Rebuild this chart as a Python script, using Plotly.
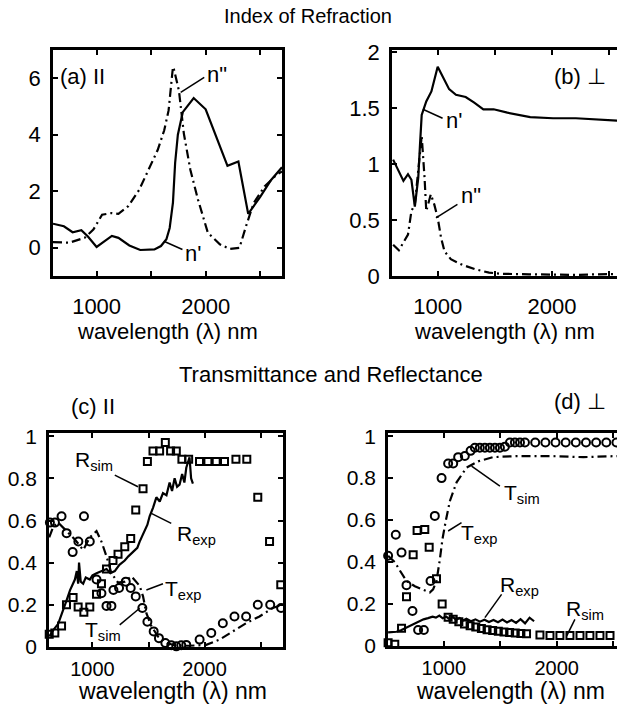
import plotly.graph_objects as go

W, H = 617, 706

# ---------------- (a) parallel : index of refraction ----------------
a_n1_x = [600, 700, 780, 860, 920, 1000, 1080, 1140, 1200, 1300, 1400, 1530, 1590, 1640,
          1670, 1700, 1720, 1745, 1790, 1890, 2000, 2200, 2300, 2390, 2500, 2600, 2700]
a_n1_y = [0.85, 0.76, 0.55, 0.62, 0.4, 0.03, 0.25, 0.42, 0.35, 0.08, -0.08, -0.06, 0.06, 0.3,
          0.7, 1.6, 3.0, 4.0, 4.8, 5.3, 4.9, 2.9, 3.05, 1.2, 1.8, 2.4, 2.85]
a_n2_x = [600, 750, 890, 970, 1050, 1140, 1200, 1290, 1390, 1460, 1560, 1620, 1660, 1700,
          1710, 1755, 1800, 1860, 1930, 2020, 2130, 2220, 2310, 2370, 2440, 2540, 2650, 2700]
a_n2_y = [0.2, 0.18, 0.35, 0.64, 1.17, 1.23, 1.2, 1.47, 2.05, 2.64, 3.46, 4.16, 4.86, 6.4,
          6.3, 5.56, 4.04, 2.75, 1.7, 0.53, 0.12, -0.04, 0.0, 0.76, 1.58, 2.17, 2.58, 2.7]

# ---------------- (b) perpendicular : index of refraction ----------------
b_n1_x = [610, 700, 740, 770, 800, 830, 845, 860, 900, 945, 1000, 1100, 1160, 1245, 1320,
          1400, 1490, 1610, 1810, 2010, 2210, 2360, 2550, 2700]
b_n1_y = [1.04, 0.85, 0.91, 0.86, 0.62, 0.88, 1.17, 1.44, 1.56, 1.65, 1.87, 1.67, 1.62, 1.6,
          1.55, 1.49, 1.49, 1.46, 1.42, 1.41, 1.41, 1.40, 1.39, 1.38]
b_n2_x = [610, 660, 740, 770, 800, 830, 860, 885, 900, 940, 970, 1000, 1030, 1060, 1115,
          1215, 1330, 1450, 1550, 1800, 2000, 2200, 2400, 2600, 2700]
b_n2_y = [0.28, 0.23, 0.37, 0.58, 0.64, 0.94, 1.25, 0.88, 0.58, 0.73, 0.64, 0.52, 0.34, 0.22,
          0.15, 0.1, 0.06, 0.03, 0.02, 0.015, 0.01, 0.01, 0.015, 0.02, 0.02]

# ---------------- (c) parallel : T and R ----------------
c_rsim_x = [614, 664, 724, 768, 827, 872, 923, 976, 1036, 1080, 1125, 1183, 1228, 1288, 1341,
            1386, 1451, 1490, 1540, 1599, 1650, 1697, 1748, 1798, 1858, 1955, 2030, 2104, 2178,
            2280, 2377, 2475, 2580, 2680]
c_rsim_y = [0.06, 0.066, 0.1, 0.2, 0.235, 0.19, 0.165, 0.19, 0.25, 0.3, 0.37, 0.41, 0.44, 0.475,
            0.515, 0.65, 0.75, 0.88, 0.93, 0.93, 0.97, 0.93, 0.93, 0.89, 0.89, 0.88, 0.88, 0.88,
            0.88, 0.89, 0.89, 0.71, 0.5, 0.295]
c_tsim_x = [620, 665, 724, 769, 823, 874, 924, 976, 1036, 1080, 1125, 1169, 1187, 1237, 1297,
            1341, 1386, 1445, 1490, 1546, 1593, 1650, 1703, 1748, 1792, 1837, 1956, 2060, 2163,
            2267, 2371, 2475, 2586, 2683]
c_tsim_y = [0.59, 0.59, 0.62, 0.54, 0.45, 0.5, 0.62, 0.5, 0.32, 0.255, 0.195, 0.195, 0.27, 0.28,
            0.31, 0.28, 0.24, 0.185, 0.12, 0.074, 0.042, 0.019, 0.008, 0.003, 0.008, 0.01, 0.035,
            0.066, 0.113, 0.145, 0.145, 0.2, 0.2, 0.185]
c_rexp_x = [614, 650, 694, 730, 768, 800, 843, 860, 872, 880, 895, 917, 940, 976, 1000, 1036,
            1080, 1125, 1160, 1199, 1240, 1288, 1320, 1362, 1400, 1421, 1466, 1490, 1510, 1540,
            1570, 1600, 1629, 1660, 1688, 1710, 1733, 1755, 1777, 1800, 1820, 1837, 1866, 1880,
            1896]
c_rexp_y = [0.05, 0.08, 0.11, 0.16, 0.22, 0.27, 0.32, 0.36, 0.3, 0.4, 0.31, 0.3, 0.33, 0.32,
            0.34, 0.35, 0.36, 0.37, 0.35, 0.36, 0.39, 0.41, 0.43, 0.45, 0.47, 0.5, 0.55, 0.58,
            0.62, 0.66, 0.71, 0.69, 0.73, 0.72, 0.78, 0.74, 0.8, 0.76, 0.77, 0.82, 0.78, 0.85,
            0.9, 0.8, 0.775]
c_texp_x = [614, 650, 694, 768, 843, 917, 976, 1036, 1080, 1125, 1169, 1228, 1288, 1347, 1421,
            1451, 1481, 1525, 1584, 1659, 1748, 1866, 2015, 2133, 2252, 2371, 2490, 2609, 2690]
c_texp_y = [0.52, 0.57, 0.59, 0.55, 0.51, 0.46, 0.52, 0.55, 0.5, 0.43, 0.35, 0.305, 0.31, 0.335,
            0.29, 0.24, 0.16, 0.1, 0.05, 0.02, 0.006, 0.006, 0.01, 0.035, 0.074, 0.113, 0.145,
            0.185, 0.2]

# ---------------- (d) perpendicular : T and R ----------------
d_tsim_x = [506, 574, 625, 669, 722, 772, 823, 882, 920, 980, 1038, 1083, 1127, 1186, 1237,
            1275, 1319, 1364, 1408, 1453, 1497, 1541, 1586, 1630, 1675, 1719, 1810, 1900, 1990,
            2080, 2170, 2260, 2350, 2440, 2530]
d_tsim_y = [0.43, 0.53, 0.445, 0.29, 0.167, 0.076, 0.076, 0.31, 0.62, 0.8, 0.87, 0.87, 0.9,
            0.905, 0.93, 0.945, 0.945, 0.945, 0.945, 0.945, 0.945, 0.95, 0.97, 0.97, 0.97, 0.97,
            0.97, 0.97, 0.97, 0.97, 0.97, 0.97, 0.97, 0.97, 0.97]
d_rsim_x = [506, 565, 625, 669, 728, 763, 831, 870, 935, 985, 1038, 1083, 1133, 1183, 1233,
            1283, 1333, 1383, 1433, 1483, 1533, 1583, 1633, 1683, 1733, 1852, 1941, 2029, 2118,
            2207, 2295, 2384, 2473]
d_rsim_y = [0.016, 0.008, 0.085, 0.235, 0.435, 0.55, 0.555, 0.47, 0.32, 0.2, 0.137, 0.127,
            0.115, 0.105, 0.097, 0.09, 0.083, 0.078, 0.074, 0.07, 0.067, 0.064, 0.062, 0.06,
            0.058, 0.052, 0.05, 0.05, 0.05, 0.05, 0.05, 0.05, 0.05]
d_texp_x = [506, 565, 610, 669, 743, 817, 876, 905, 935, 964, 988, 1015, 1053, 1113, 1201,
            1304, 1437, 1645, 1940, 2236, 2535]
d_texp_y = [0.43, 0.4, 0.36, 0.31, 0.285, 0.27, 0.255, 0.27, 0.31, 0.41, 0.51, 0.59, 0.69,
            0.78, 0.85, 0.88, 0.9, 0.905, 0.905, 0.9, 0.905]
d_rexp_x = [506, 540, 580, 620, 660, 700, 740, 780, 820, 860, 900, 930, 960, 990, 1020, 1050,
            1080, 1110, 1140, 1170, 1200, 1240, 1280, 1320, 1360, 1400, 1440, 1480, 1520, 1560,
            1600, 1640, 1680, 1720, 1760, 1800]
d_rexp_y = [0.065, 0.066, 0.068, 0.075, 0.085, 0.097, 0.108, 0.118, 0.127, 0.133, 0.14, 0.135,
            0.145, 0.132, 0.14, 0.128, 0.138, 0.125, 0.133, 0.122, 0.13, 0.118, 0.127, 0.116,
            0.125, 0.114, 0.124, 0.113, 0.126, 0.112, 0.124, 0.11, 0.128, 0.108, 0.135, 0.118]

# tick labels
x_tickvals = [1000, 2000]
x_ticktext = ["1000", "2000"]
x_minor = [1500, 2500]
a_yticks = [0, 2, 4, 6]
b_yticks = [0, 0.5, 1, 1.5, 2]
b_yticktext = ["0", "0.5", "1", "1.5", "2"]
cd_yticks = [0, 0.2, 0.4, 0.6, 0.8, 1]
cd_yticktext = ["0", "0.2", "0.4", "0.6", "0.8", "1"]

FONT = "Liberation Sans, Arial, sans-serif"
DASHDOT = "9px,4px,2px,4px"

fig = go.Figure()

def line(x, y, ax, dash=None, width=2.2):
    fig.add_trace(go.Scatter(x=x, y=y, mode="lines", xaxis="x" + ax, yaxis="y" + ax,
                             line=dict(color="black", width=width, dash=dash),
                             showlegend=False, hoverinfo="skip"))

def marks(x, y, ax, symbol, size):
    fig.add_trace(go.Scatter(x=x, y=y, mode="markers", xaxis="x" + ax, yaxis="y" + ax,
                             marker=dict(symbol=symbol, size=size, color="black",
                                         line=dict(color="black", width=2)),
                             showlegend=False, hoverinfo="skip", cliponaxis=False))

line(a_n1_x, a_n1_y, "")
line(a_n2_x, a_n2_y, "", DASHDOT)
line(b_n1_x, b_n1_y, "2")
line(b_n2_x, b_n2_y, "2", DASHDOT)
line(c_rexp_x, c_rexp_y, "3")
line(c_texp_x, c_texp_y, "3", DASHDOT)
marks(c_rsim_x, c_rsim_y, "3", "square-open", 7)
marks(c_tsim_x, c_tsim_y, "3", "circle-open", 8)
line(d_rexp_x, d_rexp_y, "4")
line(d_texp_x, d_texp_y, "4", DASHDOT)
marks(d_tsim_x, d_tsim_y, "4", "circle-open", 8)
marks(d_rsim_x, d_rsim_y, "4", "square-open", 7)

def xd(a, b):
    return [a / W, min(b / W, 1.0)]

def yd(top, bot):
    return [1 - bot / H, 1 - top / H]

def axstyle(size):
    return dict(showline=True, linewidth=2.5, linecolor="black", ticks="inside", ticklen=5,
                tickwidth=1.5, tickcolor="black", showgrid=False, zeroline=False,
                automargin=False, tickfont=dict(family=FONT, size=size, color="black"))

minor = dict(tickmode="array", tickvals=x_minor, ticks="inside", ticklen=5, tickwidth=1.5,
             tickcolor="black", showgrid=False)

fig.update_layout(
    width=W, height=H, margin=dict(l=0, r=0, t=0, b=0, autoexpand=False),
    paper_bgcolor="white", plot_bgcolor="white",
    font=dict(family=FONT, size=20, color="black"),
    xaxis=dict(domain=xd(53, 282), range=[600, 2700], tickvals=x_tickvals, ticktext=x_ticktext,
               minor=minor, mirror="ticks", anchor="y", ticklabelstandoff=9, **axstyle(22)),
    yaxis=dict(domain=yd(50, 276), range=[-1, 7], tickvals=a_yticks, mirror="ticks",
               anchor="x", ticklabelstandoff=5, **axstyle(22)),
    xaxis2=dict(domain=xd(392, 617), range=[600, 2570], tickvals=x_tickvals, ticktext=x_ticktext,
                minor=minor, mirror="ticks", anchor="y2", ticklabelstandoff=9, **axstyle(22)),
    yaxis2=dict(domain=yd(50, 276), range=[0, 2.02], tickvals=b_yticks, ticktext=b_yticktext,
                mirror=False, anchor="x2", ticklabelstandoff=5, **axstyle(22)),
    xaxis3=dict(domain=xd(49, 283), range=[612, 2700], tickvals=x_tickvals, ticktext=x_ticktext,
                minor=minor, mirror="ticks", anchor="y3", ticklabelstandoff=2, **axstyle(20)),
    yaxis3=dict(domain=yd(433, 647), range=[0, 1.015], tickvals=cd_yticks, ticktext=cd_yticktext,
                mirror="ticks", anchor="x3", ticklabelstandoff=5, **axstyle(21)),
    xaxis4=dict(domain=xd(388, 617), range=[505, 2535], tickvals=x_tickvals, ticktext=x_ticktext,
                minor=minor, mirror="ticks", anchor="y4", ticklabelstandoff=2, **axstyle(20)),
    yaxis4=dict(domain=yd(433, 646), range=[0, 1.015], tickvals=cd_yticks, ticktext=cd_yticktext,
                mirror=False, anchor="x4", ticklabelstandoff=5, **axstyle(21)),
)

annots = []

def paper_text(text, x, y, size=20, xanchor="center"):
    annots.append(dict(text=text, x=x / W, y=1 - y / H, xref="paper", yref="paper",
                       showarrow=False, xanchor=xanchor, yanchor="middle",
                       font=dict(family=FONT, size=size, color="black")))

def data_text(text, x, y, ax, size=21):
    annots.append(dict(text=text, x=x, y=y, xref="x" + ax, yref="y" + ax,
                       showarrow=False, xanchor="center", yanchor="middle",
                       font=dict(family=FONT, size=size, color="black")))

shapes = []

def leader(x0, y0, x1, y1, ax):
    shapes.append(dict(type="line", x0=x0, y0=y0, x1=x1, y1=y1, xref="x" + ax, yref="y" + ax,
                       line=dict(color="black", width=1.5)))

# titles
paper_text("Index of Refraction", 308, 16, 20)
paper_text("Transmittance and Reflectance", 331, 374, 22)
for cx, cy, sz in [(167, 331, 22), (504, 331, 22), (172, 691, 23), (510, 691, 23)]:
    paper_text("wavelength (\u03bb) nm", cx, cy, sz)

# (a)
paper_text("(a) II", 58, 77, 22, xanchor="left")
data_text('n"', 2100, 6.13, "", 22)
leader(1771, 5.5, 1987, 6.03, "")
data_text("n'", 1885, -0.2, "", 22)
leader(1617, 0.23, 1787, -0.06, "")

# (b)
paper_text("(b) \u22a5", 580, 77, 22)
data_text("n'", 1144, 1.39, "2", 22)
leader(870, 1.49, 1043, 1.41, "2")
data_text('n"', 1288, 0.72, "2", 22)
leader(985, 0.52, 1173, 0.64, "2")

# (c)
paper_text("(c) II", 93, 406, 22)
data_text("R<sub>sim</sub>", 1012, 0.88, "3")
leader(1199, 0.815, 1406, 0.76, "3")
data_text("R<sub>exp</sub>", 1929, 0.53, "3")
leader(1525, 0.634, 1703, 0.586, "3")
data_text("T<sub>exp</sub>", 1808, 0.27, "3")
leader(1481, 0.27, 1629, 0.30, "3")
data_text("T<sub>sim</sub>", 1092, 0.075, "3")
leader(1243, 0.105, 1421, 0.184, "3")

# (d)
paper_text("(d) \u22a5", 580, 401, 22)
data_text("T<sub>sim</sub>", 1692, 0.725, "4")
leader(1246, 0.857, 1497, 0.762, "4")
data_text("T<sub>exp</sub>", 1319, 0.535, "4")
leader(1038, 0.548, 1157, 0.588, "4")
data_text("R<sub>exp</sub>", 1674, 0.285, "4")
leader(1364, 0.135, 1512, 0.246, "4")
data_text("R<sub>sim</sub>", 2251, 0.17, "4")
leader(2089, 0.048, 2162, 0.127, "4")

fig.update_layout(annotations=annots, shapes=shapes)
fig.write_html("out.html", config={"displayModeBar": False},
               post_script="document.body.style.margin='0';document.body.style.padding='0';")
